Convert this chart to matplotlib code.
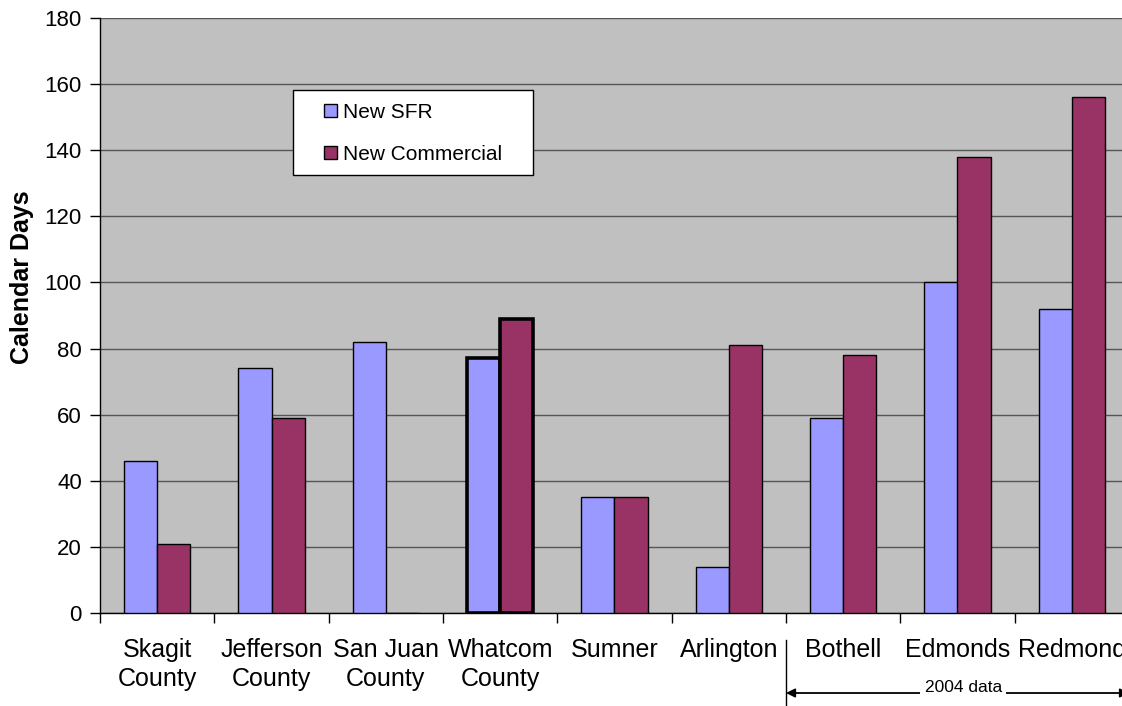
import matplotlib
matplotlib.use("Agg")
import matplotlib.pyplot as plt
import numpy as np
from matplotlib.patches import Patch, Rectangle
from matplotlib.transforms import blended_transform_factory

plt.rcParams['font.family'] = ['Liberation Sans', 'DejaVu Sans']

categories = ["Skagit\nCounty", "Jefferson\nCounty", "San Juan\nCounty", "Whatcom\nCounty",
              "Sumner", "Arlington", "Bothell", "Edmonds", "Redmond"]
new_sfr = [46, 74, 82, 77, 35, 14, 59, 100, 92]
new_commercial = [21, 59, 0, 89, 35, 81, 78, 138, 156]
y_ticks = list(range(0, 181, 20))
series_labels = ["New SFR", "New Commercial"]
highlight = "Whatcom\nCounty"

SFR_COLOR = "#9999FF"
COM_COLOR = "#993366"
BG = "#C0C0C0"

W, H = 1122, 706
fig = plt.figure(figsize=(W / 100, H / 100), dpi=100)
ax = fig.add_axes([100 / W, (H - 613) / H, (1129 - 100) / W, (613 - 18) / H])
ax.set_facecolor(BG)

x = np.arange(len(categories))
w = 0.29
lw = [2.6 if c == highlight else 1.0 for c in categories]
ax.bar(x - w / 2, new_sfr, w, color=SFR_COLOR, edgecolor="black", linewidth=lw, zorder=3)
ax.bar(x + w / 2, new_commercial, w, color=COM_COLOR, edgecolor="black", linewidth=lw, zorder=3)

ax.set_xlim(-0.5, len(categories) - 0.5)
ax.set_ylim(0, 180)
ax.set_yticks(y_ticks)
ax.tick_params(axis="y", direction="out", length=7, width=1, labelsize=16, pad=6)
ax.yaxis.grid(True, color="#555555", linewidth=1, zorder=0)
ax.set_axisbelow(True)

# category boundaries as ticks, names centred beneath each group
ax.set_xticks(np.arange(-0.5, len(categories), 1.0))
ax.set_xticklabels([])
ax.set_xticks(x, minor=True)
ax.set_xticklabels(categories, minor=True, fontsize=18, linespacing=1.25)
ax.tick_params(axis="x", which="major", direction="out", length=7, width=1)
ax.tick_params(axis="x", which="minor", length=0, pad=18)

for s in ["top", "right"]:
    ax.spines[s].set_visible(False)
for s in ["left", "bottom"]:
    ax.spines[s].set_color("black")
    ax.spines[s].set_linewidth(1)

ax.set_ylabel("Calendar Days", fontsize=18, fontweight="bold")
ax.yaxis.set_label_coords((34 - 100) / 1029, (613 - 277) / 595)

# legend: white framed box with square swatches
to_fig = lambda px, py: (px / W, (H - py) / H)
ax.add_patch(Rectangle(to_fig(293, 175), 240 / W, 85 / H, transform=fig.transFigure,
                       facecolor="white", edgecolor="black", linewidth=1,
                       zorder=4, clip_on=False))
handles = [Patch(facecolor=SFR_COLOR, edgecolor="black"),
           Patch(facecolor=COM_COLOR, edgecolor="black")]
leg = ax.legend(handles, series_labels, loc="upper left",
                bbox_to_anchor=to_fig(324, 103), bbox_transform=fig.transFigure,
                fontsize=15, frameon=False,
                handlelength=0.6, handleheight=0.6,
                handletextpad=0.3, labelspacing=1.1, borderpad=0,
                borderaxespad=0)

# bracket marking the 2004 data groups
tr = blended_transform_factory(ax.transData, fig.transFigure)
ax.plot([5.5, 5.5], [(H - 640) / H, 0], transform=tr, color="black",
        linewidth=1, clip_on=False)
ax.annotate("", xy=(5.5, (H - 693) / H), xytext=(8.5, (H - 693) / H),
            xycoords=tr, textcoords=tr,
            arrowprops=dict(arrowstyle="<|-|>", color="black", lw=1.3,
                            mutation_scale=13, shrinkA=0, shrinkB=0))
ax.text(7.05, (H - 687) / H, "2004 data", transform=tr, ha="center", va="center",
        fontsize=12.5, bbox=dict(facecolor="white", edgecolor="none", pad=3))

fig.savefig("out.png", dpi=100, facecolor="white")
